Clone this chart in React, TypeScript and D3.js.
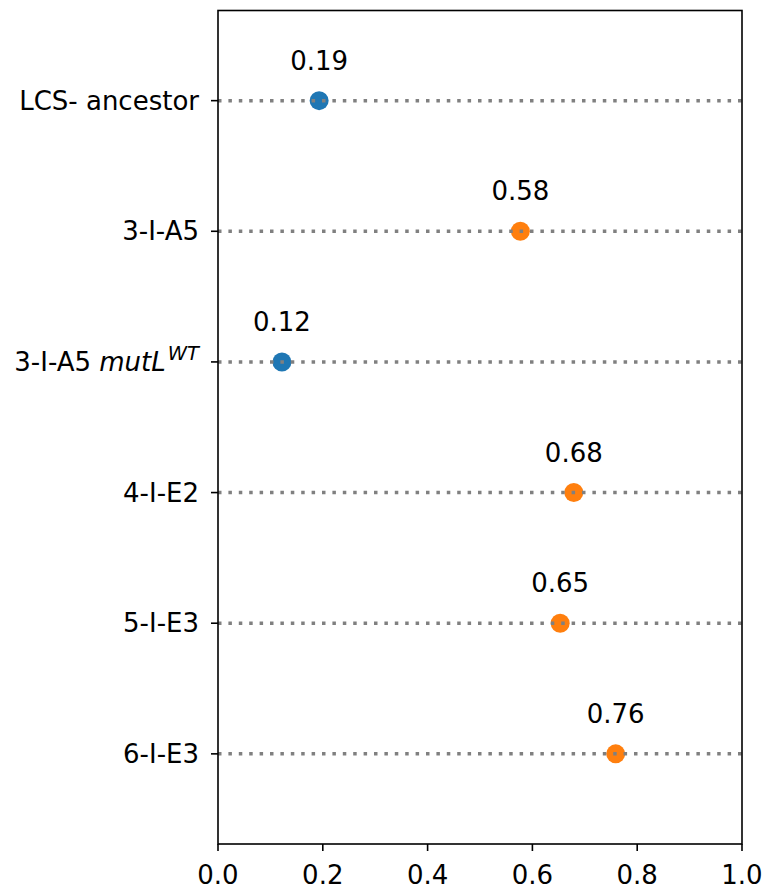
import React from "react";
import * as d3 from "d3";

const categories = ["LCS- ancestor", "3-I-A5", "3-I-A5 mutL^WT", "4-I-E2", "5-I-E3", "6-I-E3"];
const values = [0.193, 0.577, 0.122, 0.679, 0.653, 0.759];
const groups = ["blue", "orange", "blue", "orange", "orange", "orange"];
const xTicks = [0, 0.2, 0.4, 0.6, 0.8, 1.0];

const W = 766;
const H = 889;
const left = 218;
const right = 742;
const top = 10.5;
const bottom = 844;
const FONT = "DejaVu Sans, sans-serif";

const colorMap: Record<string, string> = { blue: "#1f77b4", orange: "#ff7f0e" };

export default function App() {
  const x = d3.scaleLinear().domain([0, 1]).range([left, right]);
  const y = d3.scaleLinear().domain([-0.69, categories.length - 1 + 0.69]).range([top, bottom]);

  const renderLabel = (c: string) => {
    if (c.includes("^")) {
      const [base, sup] = c.split("^");
      const parts = base.split(" ");
      return (
        <>
          <tspan>{parts[0] + " "}</tspan>
          <tspan fontStyle="italic">{parts[1]}</tspan>
          <tspan fontStyle="italic" fontSize={19.5} dx={2} dy={-11}>{sup}</tspan>
        </>
      );
    }
    return c;
  };

  return (
    <svg width={W} height={H} style={{ position: "absolute", left: 0, top: 0, background: "#fff" }} fontFamily={FONT}>
      <rect x={0} y={0} width={W} height={H} fill="#fff" />
      {/* markers */}
      {values.map((v, i) => (
        <circle key={"c" + i} cx={x(v)} cy={y(i)} r={9.5} fill={colorMap[groups[i]]} />
      ))}
      {/* dotted lines */}
      {categories.map((c, i) => (
        <line key={"l" + i} x1={left} x2={right} y1={y(i)} y2={y(i)} stroke="#808080" strokeWidth={3.5} strokeDasharray="3.5 6.9" />
      ))}
      {/* annotations */}
      {values.map((v, i) => (
        <text key={"a" + i} x={x(v)} y={y(i) - 31} textAnchor="middle" fontSize={26} fill="#000">
          {v.toFixed(2)}
        </text>
      ))}
      {/* frame */}
      <rect x={left} y={top} width={right - left} height={bottom - top} fill="none" stroke="#000" strokeWidth={1.6} />
      {/* y ticks */}
      {categories.map((c, i) => (
        <g key={"yt" + i}>
          <line x1={left - 7} x2={left} y1={y(i)} y2={y(i)} stroke="#000" strokeWidth={1.6} />
          <text x={left - 19} y={y(i) + 9} textAnchor="end" fontSize={26} fill="#000">
            {renderLabel(c)}
          </text>
        </g>
      ))}
      {/* x ticks */}
      {xTicks.map((t, i) => (
        <g key={"xt" + i}>
          <line x1={x(t)} x2={x(t)} y1={bottom} y2={bottom + 7} stroke="#000" strokeWidth={1.6} />
          <text x={x(t)} y={bottom + 40} textAnchor="middle" fontSize={26} fill="#000">
            {t.toFixed(1)}
          </text>
        </g>
      ))}
    </svg>
  );
}
